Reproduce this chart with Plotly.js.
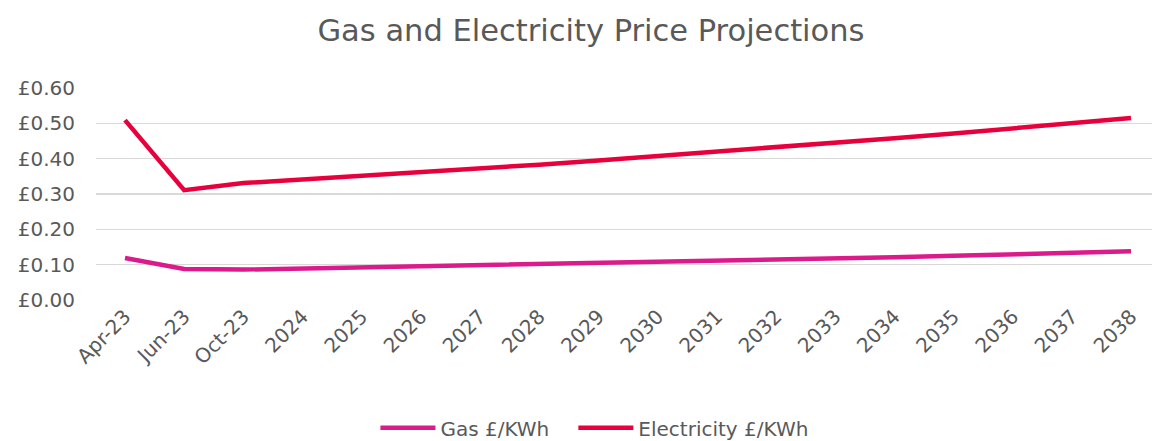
<!DOCTYPE html>
<html><head><meta charset="utf-8">
<script src="https://cdn.plot.ly/plotly-3.0.1.min.js"></script>
<style>body{margin:0;background:#fff}#chart{width:1152px;height:441px}</style>
</head><body><div id="chart"></div>
<script>
const categories = ["Apr-23","Jun-23","Oct-23","2024","2025","2026","2027","2028","2029","2030","2031","2032","2033","2034","2035","2036","2037","2038"];
const gasValues = [0.119,0.088,0.086,0.089,0.091,0.094,0.097,0.100,0.104,0.107,0.110,0.114,0.117,0.121,0.125,0.129,0.133,0.138];
const elecValues = [0.509,0.311,0.331,0.341,0.351,0.362,0.372,0.383,0.395,0.407,0.419,0.431,0.444,0.458,0.471,0.486,0.500,0.515];
const yTicks = [0,0.1,0.2,0.3,0.4,0.5,0.6];
const yTickText = ["£0.00","£0.10","£0.20","£0.30","£0.40","£0.50","£0.60"];
const seriesNames = ["Gas £/KWh\u00A0\u00A0\u00A0", "Electricity £/KWh"];

const font = "'DejaVu Sans', sans-serif";
const grey = "#595959";
const traces = [
  {x: categories, y: gasValues, name: seriesNames[0], mode: "lines", type: "scatter",
   line: {color: "#DB1A8C", width: 4.5}, hoverinfo: "skip"},
  {x: categories, y: elecValues, name: seriesNames[1], mode: "lines", type: "scatter",
   line: {color: "#E8003D", width: 4.5}, hoverinfo: "skip"}
];
const layout = {
  width: 1152, height: 441,
  margin: {l: 96, r: 0, t: 88, b: 141},
  paper_bgcolor: "#fff", plot_bgcolor: "#fff",
  font: {family: font, color: grey, size: 20},
  title: {text: "Gas and Electricity Price Projections", font: {family: font, size: 30.5, color: grey},
          x: 0.513, xanchor: "center", y: 0.932, yanchor: "middle"},
  xaxis: {type: "category", range: [-0.49, 17.355], tickangle: -45, showgrid: false, zeroline: false,
          showline: false, ticks: "", tickfont: {size: 20, color: grey}, fixedrange: true, automargin: false},
  yaxis: {range: [0, 0.6], tickvals: yTicks, ticktext: yTickText, showgrid: true, gridcolor: "#d9d9d9",
          gridwidth: 1.5, zeroline: false, showline: false, ticks: "", ticklabelstandoff: 20,
          tickfont: {size: 20, color: grey}, fixedrange: true, automargin: false},
  showlegend: true,
  legend: {orientation: "h", x: 0.472, xanchor: "center", xref: "paper",
           yref: "container", y: 0.03, yanchor: "middle",
           font: {size: 20, color: grey}, traceorder: "normal", itemwidth: 55}
};
Plotly.newPlot("chart", traces, layout, {displayModeBar: false, staticPlot: true});
</script></body></html>
